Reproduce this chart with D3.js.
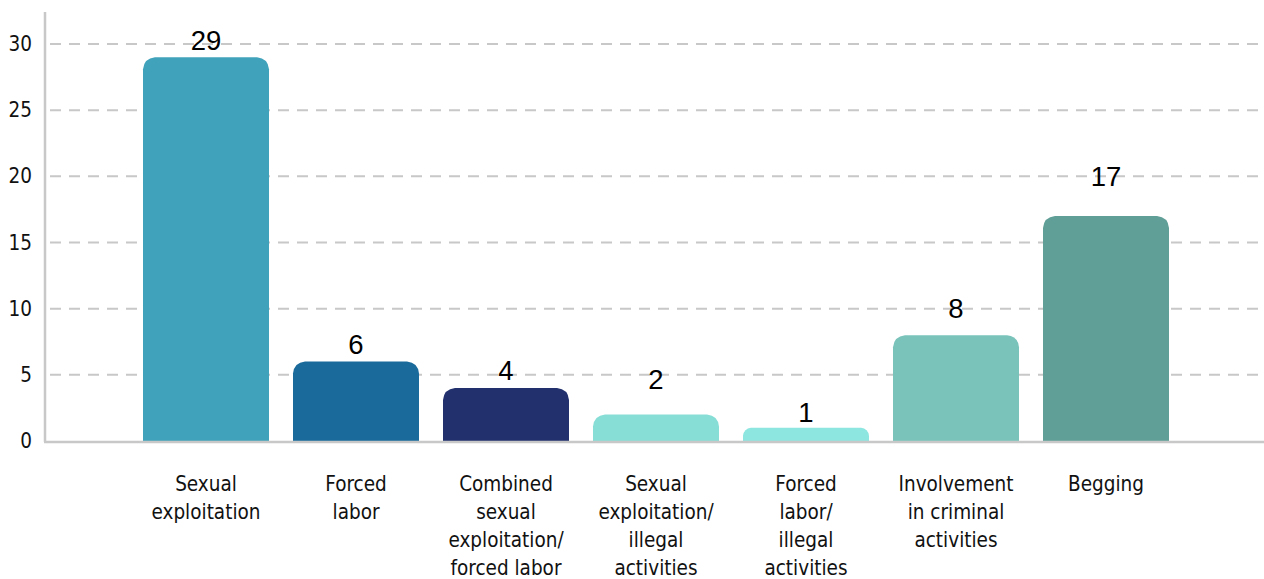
<!DOCTYPE html>
<html>
<head>
<meta charset="utf-8">
<script src="https://cdn.jsdelivr.net/npm/d3@7"></script>
<style>
    body { margin: 0; background: #fff; }
    .label { font-family: "DejaVu Sans Condensed", "DejaVu Sans", sans-serif; font-stretch: condensed; font-size: 20.5px; fill: #111; }
    .value { font-family: "Liberation Sans", Arial, sans-serif; font-size: 27.5px; fill: #000; }
</style>
</head>
<body>
<div id="chart-area"></div>
<script>

// Data
var categories = [
    ["Sexual", "exploitation"],
    ["Forced", "labor"],
    ["Combined", "sexual", "exploitation/", "forced labor"],
    ["Sexual", "exploitation/", "illegal", "activities"],
    ["Forced", "labor/", "illegal", "activities"],
    ["Involvement", "in criminal", "activities"],
    ["Begging"]
];
var values = [29, 6, 4, 2, 1, 8, 17];
var colors = ["#41a3bb", "#1a6b9c", "#22316e", "#87ded6", "#8de6e0", "#79c3bb", "#5f9f97"];
var yTicks = [0, 5, 10, 15, 20, 25, 30];


/*
 * BarVis - Object constructor function
 */

BarVis = function(_parentElement, _labels, _values, _colors){
    this.parentElement = _parentElement;
    this.labels = _labels;
    this.values = _values;
    this.colors = _colors;

    this.initVis();
}

BarVis.prototype.initVis = function(){
    var vis = this;

    vis.width = 1264;
    vis.height = 579;

    // gap between bar top and value label baseline (labels aren't placed evenly in the original)
    vis.labelGap = [7, 8, 8, 26, 6, 17, 30];

    vis.svg = d3.select("#" + vis.parentElement).append("svg")
        .attr("width", vis.width)
        .attr("height", vis.height);

    vis.x = d3.scaleBand()
        .domain(d3.range(vis.values.length))
        .range([131, 1181])
        .paddingInner(0.16)
        .paddingOuter(0.08);

    vis.y = d3.scaleLinear()
        .domain([0, 30])
        .range([441, 44]);

    // dashed grid
    vis.svg.selectAll(".grid")
        .data(yTicks.filter(function(d){ return d > 0; }))
        .enter().append("line")
        .attr("class", "grid")
        .attr("x1", 47).attr("x2", vis.width)
        .attr("y1", function(d){ return vis.y(d); })
        .attr("y2", function(d){ return vis.y(d); })
        .attr("stroke", "#c8c8c8")
        .attr("stroke-width", 2)
        .attr("stroke-dasharray", "11,8")
        .attr("stroke-dashoffset", -3);

    // y axis (labels only, line drawn separately)
    var yAxis = d3.axisLeft(vis.y).tickValues(yTicks).tickSize(0).tickPadding(13);
    var gy = vis.svg.append("g")
        .attr("transform", "translate(45,0)")
        .call(yAxis);
    gy.select(".domain").remove();
    gy.selectAll("text")
        .attr("class", "label")
        .attr("fill", "#111")
        .style("font-size", "20.5px");

    vis.svg.append("line")
        .attr("x1", 45).attr("x2", 45)
        .attr("y1", 12).attr("y2", vis.y(0) + 1)
        .attr("stroke", "#c8c8c8").attr("stroke-width", 2.5);

    vis.wrangleData();
}

BarVis.prototype.wrangleData = function(){
    var vis = this;

    vis.displayData = vis.values.map(function(v, i){
        return { index: i, value: v, label: vis.labels[i], color: vis.colors[i] };
    });

    vis.updateVis();
}

BarVis.prototype.updateVis = function(){
    var vis = this;

    // bar with rounded top corners
    function barPath(d){
        var x0 = vis.x(d.index), x1 = x0 + vis.x.bandwidth();
        var y0 = vis.y(d.value), yb = vis.y(0);
        var r = Math.min(12, (yb - y0) * 0.6);
        return "M" + x0 + "," + yb +
            "L" + x0 + "," + (y0 + r) +
            "Q" + (x0 + 1) + "," + (y0 + 1) + " " + (x0 + r) + "," + y0 +
            "L" + (x1 - r) + "," + y0 +
            "Q" + (x1 - 1) + "," + (y0 + 1) + " " + x1 + "," + (y0 + r) +
            "L" + x1 + "," + yb + "Z";
    }

    vis.svg.selectAll(".bar")
        .data(vis.displayData)
        .enter().append("path")
        .attr("class", "bar")
        .attr("d", barPath)
        .attr("fill", function(d){ return d.color; });

    // x baseline
    vis.svg.append("line")
        .attr("x1", 44).attr("x2", vis.width)
        .attr("y1", vis.y(0) + 1).attr("y2", vis.y(0) + 1)
        .attr("stroke", "#c8c8c8").attr("stroke-width", 2.5);

    vis.svg.selectAll(".value")
        .data(vis.displayData)
        .enter().append("text")
        .attr("class", "value")
        .attr("text-anchor", "middle")
        .attr("x", function(d){ return vis.x(d.index) + vis.x.bandwidth() / 2; })
        .attr("y", function(d){ return vis.y(d.value) - vis.labelGap[d.index]; })
        .text(function(d){ return d.value; });

    var cats = vis.svg.selectAll(".cat")
        .data(vis.displayData)
        .enter().append("text")
        .attr("class", "label cat")
        .attr("text-anchor", "middle")
        .attr("x", function(d){ return vis.x(d.index) + vis.x.bandwidth() / 2; })
        .attr("y", 491);

    cats.selectAll("tspan")
        .data(function(d){ return d.label.map(function(l){ return { text: l, x: vis.x(d.index) + vis.x.bandwidth() / 2 }; }); })
        .enter().append("tspan")
        .attr("x", function(d){ return d.x; })
        .attr("dy", function(d, i){ return i === 0 ? 0 : 28; })
        .text(function(d){ return d.text; });
}

new BarVis("chart-area", categories, values, colors);

</script>
</body>
</html>
